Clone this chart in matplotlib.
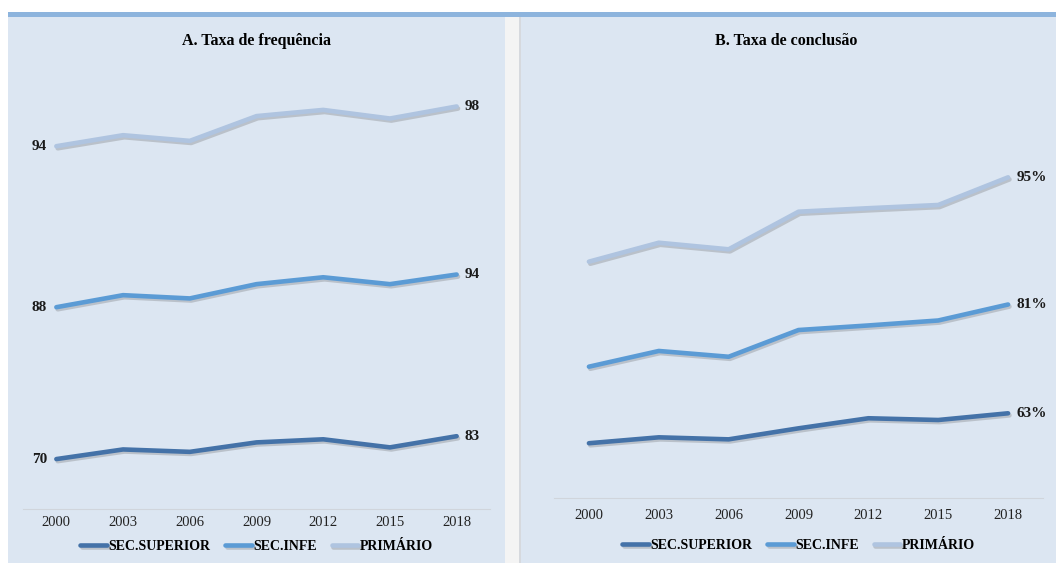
import numpy as np
import matplotlib.pyplot as plt
from matplotlib.patches import Rectangle
import matplotlib.patheffects as pe

plt.rcParams['font.family'] = ['Liberation Serif', 'DejaVu Serif']

# dados (linhas empilhadas, como no grafico original)
anos = ["2000", "2003", "2006", "2009", "2012", "2015", "2018"]
series = ["SEC.SUPERIOR", "SEC.INFE", "PRIMÁRIO"]
cores = ["#4472A8", "#5B9BD5", "#AFC4E0"]

# A. Taxa de frequência
freq_superior = [70.0, 75.6, 74.2, 79.7, 81.5, 76.8, 83.3]
freq_infe = [88.3, 89.7, 89.2, 92.0, 94.2, 94.9, 94.0]
freq_primario = [93.6, 93.0, 91.6, 97.7, 97.3, 96.3, 97.7]

# B. Taxa de conclusão
concl_superior = [41.0, 45.4, 43.9, 52.1, 59.6, 58.3, 63.3]
concl_infe = [57.0, 64.3, 61.5, 73.2, 69.1, 74.1, 81.0]
concl_primario = [78.2, 80.6, 80.0, 88.1, 87.3, 86.0, 94.7]

W, H = 1056, 563
fig = plt.figure(figsize=(W / 100, H / 100), dpi=100)
fig.patch.set_facecolor("white")

def px_rect(x0, y0, x1, y1, color):
    # retangulo em pixels (origem no topo)
    fig.patches.append(Rectangle((x0 / W, 1 - y1 / H), (x1 - x0) / W, (y1 - y0) / H,
                                 transform=fig.transFigure, facecolor=color,
                                 edgecolor="none", zorder=-5))

# fundos dos paineis
px_rect(8, 12, W, 17, "#8DB4DD")
px_rect(8, 17, 505, H, "#DCE6F2")
px_rect(505, 17, 519, H, "#F4F4F4")
px_rect(519, 17, 521, H, "#D6D9DE")
px_rect(521, 17, W, H, "#DCE6F2")

def painel(rect, ylim, valores, titulo, fmt, rotulo_inicio, pad, leg_y, tit_x):
    ax = fig.add_axes(rect)
    ax.set_facecolor("none")
    x = np.arange(len(anos))
    acum = np.cumsum(np.array(valores), axis=0)
    for i in range(len(series)):
        ax.plot(x, acum[i], color=cores[i], lw=3.3, label=series[i], solid_capstyle="round",
                path_effects=[pe.SimpleLineShadow(offset=(1, -1.5), shadow_color="#555555", alpha=0.25),
                              pe.Normal()])
        ax.text(x[-1] + 0.12, acum[i][-1], fmt.format(valores[i][-1]), fontsize=11,
                fontweight="bold", va="center", ha="left", color="#1a1a1a")
        if rotulo_inicio:
            ax.text(x[0] - 0.14, acum[i][0], fmt.format(valores[i][0]), fontsize=11,
                    fontweight="bold", va="center", ha="right", color="#1a1a1a")
    ax.set_xlim(-0.5, len(anos) - 0.5)
    ax.set_ylim(*ylim)
    ax.set_xticks(x)
    ax.set_xticklabels(anos, fontsize=10.5)
    ax.tick_params(axis="x", length=0, pad=pad, colors="#222222")
    ax.set_yticks([])
    for s in ["top", "left", "right"]:
        ax.spines[s].set_visible(False)
    ax.spines["bottom"].set_color("#D0D5DC")
    h = rect[3] * H
    ax.set_title(titulo, fontsize=11.5, fontweight="bold", x=tit_x, y=1 + (60 - 45) / h, pad=0)
    ax.legend(loc="center", bbox_to_anchor=(0.5, leg_y), ncol=3, frameon=False,
              handlelength=1.9, handletextpad=0.1, columnspacing=1.1,
              prop={"weight": "bold", "size": 10})
    return ax

# painel A
painel([23 / W, 1 - 509.3 / H, 467 / W, (509.3 - 60) / H],
       (40.8, 40.8 + (509.3 - 60) / 1.72),
       [freq_superior, freq_infe, freq_primario],
       "A. Taxa de frequência", "{:.0f}", True, 5, -0.082, 0.5)

# painel B
painel([554 / W, 1 - 498.3 / H, 489 / W, (498.3 - 60) / H],
       (0, (498.3 - 60) / 1.343),
       [concl_superior, concl_infe, concl_primario],
       "B. Taxa de conclusão", "{:.0f}%", False, 8, -0.108, 0.475)

fig.savefig("out.png", dpi=100)
